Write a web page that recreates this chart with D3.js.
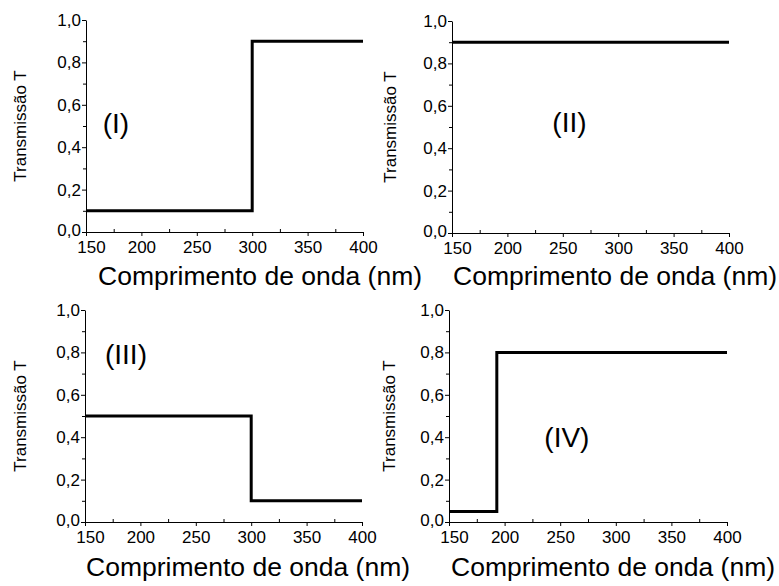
<!DOCTYPE html>
<html>
<head>
<meta charset="utf-8">
<script src="https://cdn.jsdelivr.net/npm/d3@7"></script>
<style>
  html, body { margin: 0; padding: 0; background: #fff; }
  svg { display: block; font-family: "Liberation Sans", Arial, sans-serif; }
</style>
</head>
<body>
<svg id="chart" width="779" height="586"></svg>
<script>
// ---- data ----
const xTickValues = [150, 200, 250, 300, 350, 400];
const yTickValues = [0.0, 0.2, 0.4, 0.6, 0.8, 1.0];
const xTitle = "Comprimento de onda (nm)";
const yTitle = "Transmissão T";
const panelNames = ["(I)", "(II)", "(III)", "(IV)"];

const wavelengthI = [150, 300, 300, 400];
const transmissionI = [0.1, 0.1, 0.9, 0.9];
const wavelengthII = [150, 400];
const transmissionII = [0.9, 0.9];
const wavelengthIII = [150, 300, 300, 400];
const transmissionIII = [0.5, 0.5, 0.1, 0.1];
const wavelengthIV = [150, 193, 193, 400];
const transmissionIV = [0.05, 0.05, 0.8, 0.8];

// ---- layout ----
const panels = [
  { xs: wavelengthI,   ys: transmissionI,   x0: 86,  x1: 363, yTop: 20,  yBot: 232, labelAt: [177, 0.51], titleX: 98,  titleY: 285, ylabX: 26 },
  { xs: wavelengthII,  ys: transmissionII,  x0: 452, x1: 729, yTop: 21,  yBot: 233, labelAt: [256, 0.52], titleX: 453, titleY: 285, ylabX: 396 },
  { xs: wavelengthIII, ys: transmissionIII, x0: 85,  x1: 362, yTop: 310, yBot: 522, labelAt: [187, 0.79], titleX: 86,  titleY: 576, ylabX: 26 },
  { xs: wavelengthIV,  ys: transmissionIV,  x0: 449, x1: 727, yTop: 310, yBot: 522, labelAt: [256, 0.40], titleX: 451, titleY: 576, ylabX: 395 }
];

const svg = d3.select("#chart");
const fmt = d => d3.format(".1f")(d).replace(".", ",");
const FONT = "Liberation Sans, Arial, sans-serif";

panels.forEach((p, i) => {
  const x = d3.scaleLinear().domain([150, 400]).range([p.x0, p.x1]);
  const y = d3.scaleLinear().domain([0, 1]).range([p.yBot, p.yTop]);
  const g = svg.append("g");

  // minor x ticks (inward)
  const gxm = g.append("g").attr("transform", `translate(0,${p.yBot})`)
    .call(d3.axisTop(x).tickValues([175, 225, 275, 325, 375]).tickSize(3).tickFormat(""));
  gxm.select(".domain").remove();
  // major x axis
  const gx = g.append("g").attr("transform", `translate(0,${p.yBot})`)
    .call(d3.axisBottom(x).tickValues(xTickValues).tickSize(4).tickSizeOuter(0).tickPadding(5));
  gx.selectAll("text")
    .attr("font-size", 17).attr("font-family", FONT).attr("fill", "#000")
    .attr("dx", d => d === 150 ? 5 : 0);

  // minor y ticks
  const gym = g.append("g").attr("transform", `translate(${p.x0},0)`)
    .call(d3.axisLeft(y).tickValues([0.1, 0.3, 0.5, 0.7, 0.9]).tickSize(3).tickFormat(""));
  gym.select(".domain").remove();
  const gy = g.append("g").attr("transform", `translate(${p.x0},0)`)
    .call(d3.axisLeft(y).tickValues(yTickValues).tickSize(4).tickSizeOuter(0).tickPadding(1).tickFormat(fmt));
  gy.selectAll("text").attr("font-size", 17).attr("font-family", FONT).attr("fill", "#000")
    .attr("dy", d => d === 0 ? "0.2em" : "0.32em");

  g.selectAll(".domain, .tick line").attr("stroke", "#000").attr("stroke-width", 1);

  // data line
  const line = d3.line().x(d => x(d[0])).y(d => y(d[1]));
  g.append("path")
    .datum(p.xs.map((v, k) => [v, p.ys[k]]))
    .attr("d", line)
    .attr("fill", "none")
    .attr("stroke", "#000")
    .attr("stroke-width", 3)
    .attr("stroke-linejoin", "miter")
    .attr("stroke-linecap", "butt");

  // panel label
  g.append("text")
    .attr("x", x(p.labelAt[0])).attr("y", y(p.labelAt[1]))
    .attr("text-anchor", "middle").attr("dominant-baseline", "central")
    .attr("font-size", 28).attr("fill", "#000")
    .text(panelNames[i]);

  // x title
  g.append("text")
    .attr("x", p.titleX).attr("y", p.titleY)
    .attr("font-size", 26.5).attr("fill", "#000")
    .text(xTitle);

  // y title
  g.append("text")
    .attr("transform", `translate(${p.ylabX},${(p.yTop + p.yBot) / 2}) rotate(-90)`)
    .attr("text-anchor", "middle")
    .attr("font-size", 17).attr("fill", "#000")
    .text(yTitle);
});
</script>
</body>
</html>
